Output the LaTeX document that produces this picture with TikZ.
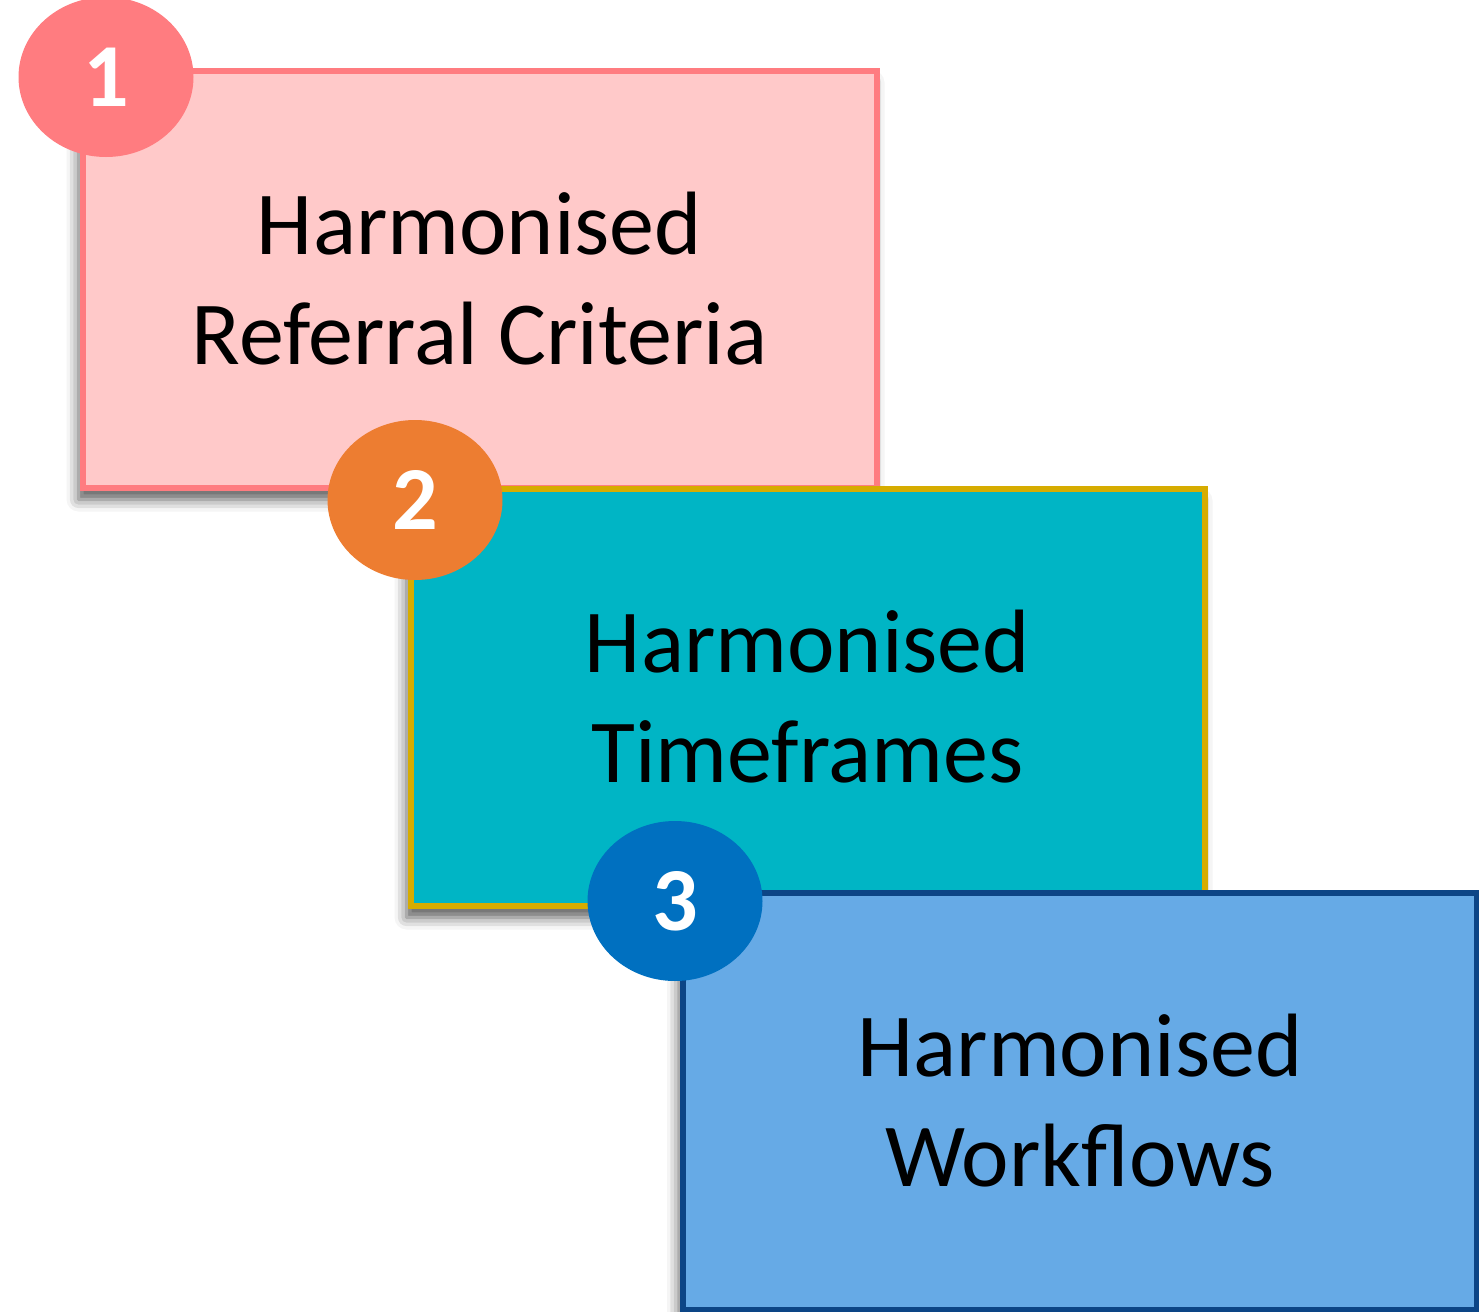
\documentclass[tikz,border=0pt]{standalone}
\usepackage{fontspec}
\setmainfont{Carlito}
\usetikzlibrary{shapes.geometric,shadows.blur}

\definecolor{pinkfill}{HTML}{FFC9C9}
\definecolor{pinkline}{HTML}{FF7C80}
\definecolor{tealfill}{HTML}{00B5C5}
\definecolor{goldline}{HTML}{D6AC00}
\definecolor{orangebadge}{HTML}{ED7D31}
\definecolor{bluefill}{HTML}{66AAE6}
\definecolor{blueline}{HTML}{0C4586}
\definecolor{bluebadge}{HTML}{0070C0}

\tikzset{
  stage/.style={draw,line width=3pt,minimum width=397pt,minimum height=208.5pt,
    inner sep=0pt,align=center,font=\fontsize{45}{55}\selectfont,
    blur shadow={shadow xshift=-2pt,shadow yshift=-6pt,shadow blur radius=6pt,shadow opacity=65}},
  badge/.style={ellipse,minimum width=87.5pt,minimum height=80pt,inner sep=0pt,
    text=white,font=\fontsize{45}{50}\selectfont\bfseries}
}

\begin{document}
\begin{tikzpicture}[x=0.5pt,y=-0.5pt]
\useasboundingbox (0,0) rectangle (1479,1312);

% the three steps
\node (crit) at (479.5,279) [stage,fill=pinkfill,draw=pinkline] {Harmonised\\Referral Criteria};
\node (time) at (807.5,697) [stage,fill=tealfill,draw=goldline] {Harmonised\\Timeframes};
\node (flow) at (1080,1101) [stage,fill=bluefill,draw=blueline] {Harmonised\\Workflows};

% numbers
\node (one) at (106,77) [badge,fill=pinkline] {1};
\node (two) at (415,500) [badge,fill=orangebadge] {2};
\node (three) at (675,901) [badge,fill=bluebadge] {3};

\end{tikzpicture}
\end{document}
